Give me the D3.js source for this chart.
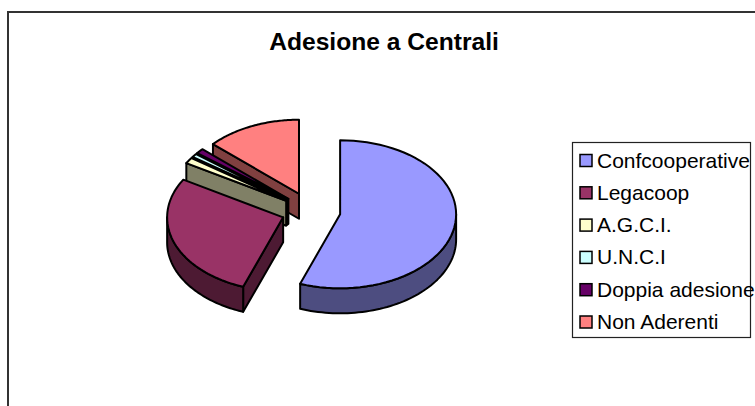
<!DOCTYPE html>
<html>
<head>
<meta charset="utf-8">
<script src="https://cdn.jsdelivr.net/npm/d3@7"></script>
<style>
html, body { margin: 0; padding: 0; background: white; overflow: hidden; }
svg { display: block; font-family: "Liberation Sans", Arial, sans-serif; }
</style>
</head>
<body>
<svg width="755" height="406"></svg>
<script>
// Data
let categories = ["Confcooperative", "Legacoop", "A.G.C.I.", "U.N.C.I", "Doppia adesione", "Non Aderenti"];
let values = [55.6, 27.9, 1.3, 0.8, 1.1, 13.3];
let colors = ["#9999ff", "#993366", "#ffffcc", "#ccffff", "#660066", "#ff8080"];
let sideColors = ["#4d4d80", "#4d1a33", "#808066", "#668080", "#330033", "#804040"];

let svg = d3.select("svg");

// Chart frame, only top and left fall inside the picture
svg.append("path")
    .attr("d", "M8,406V12H755")
    .attr("fill", "none")
    .attr("stroke", "#333")
    .attr("stroke-width", 2);

svg.append("text")
    .attr("x", 384)
    .attr("y", 50)
    .attr("text-anchor", "middle")
    .attr("font-weight", "bold")
    .attr("font-size", 24.6)
    .text("Adesione a Centrali");

// Pie geometry: flattened ellipse, every slice pushed out by the same share
let cx = 311, cy = 211, rx = 116, ry = 74, depth = 25, explode = 0.255;

let pie = d3.pie().sort(null).value(d => d);
let slices = pie(values).map((d, i) => {
    let mid = (d.startAngle + d.endAngle) / 2;
    return {
        i: i,
        a0: d.startAngle,
        a1: d.endAngle,
        ox: cx + explode * rx * Math.sin(mid),
        oy: cy - explode * ry * Math.cos(mid)
    };
});

let line = d3.line();

function rim(s, a, dy) {
    return [s.ox + rx * Math.sin(a), s.oy - ry * Math.cos(a) + dy];
}

function arcPoints(s, a0, a1, dy) {
    return d3.range(0, 61).map(k => rim(s, a0 + (a1 - a0) * k / 60, dy));
}

function drawPath(points, fill) {
    svg.append("path")
        .attr("d", line(points) + "Z")
        .attr("fill", fill)
        .attr("stroke", "black")
        .attr("stroke-width", 2)
        .attr("stroke-linejoin", "round");
}

// Back slices first, the big ones in front cover them
let order = [5, 4, 3, 2, 1, 0];
order.forEach(i => {
    let s = slices[i];
    let side = sideColors[i];

    // cut face on the start of the slice
    if (s.a0 > Math.PI) {
        drawPath([[s.ox, s.oy], rim(s, s.a0, 0), rim(s, s.a0, depth), [s.ox, s.oy + depth]], side);
    }

    // outer wall, only the front half of the ellipse shows
    let w0 = Math.max(s.a0, Math.PI / 2);
    let w1 = Math.min(s.a1, 3 * Math.PI / 2);
    if (w0 < w1) {
        drawPath(arcPoints(s, w0, w1, 0).concat(arcPoints(s, w1, w0, depth)), side);
    }

    drawPath([[s.ox, s.oy]].concat(arcPoints(s, s.a0, s.a1, 0)), colors[i]);
});

// Legend
let legendY = d3.scalePoint().domain(categories).range([160.5, 322]);

svg.append("rect")
    .attr("x", 572.5)
    .attr("y", 142.5)
    .attr("width", 178)
    .attr("height", 195)
    .attr("fill", "white")
    .attr("stroke", "#222")
    .attr("stroke-width", 1.2);

let items = svg.selectAll("g.item")
    .data(categories)
    .enter()
    .append("g")
    .attr("class", "item")
    .attr("transform", d => "translate(0," + legendY(d) + ")");

items.append("rect")
    .attr("x", 580)
    .attr("y", -6)
    .attr("width", 12)
    .attr("height", 12)
    .attr("fill", (d, i) => colors[i])
    .attr("stroke", "black")
    .attr("stroke-width", 1.5);

items.append("text")
    .attr("x", 597)
    .attr("y", 7)
    .attr("font-size", 21)
    .text(d => d);
</script>
</body>
</html>
